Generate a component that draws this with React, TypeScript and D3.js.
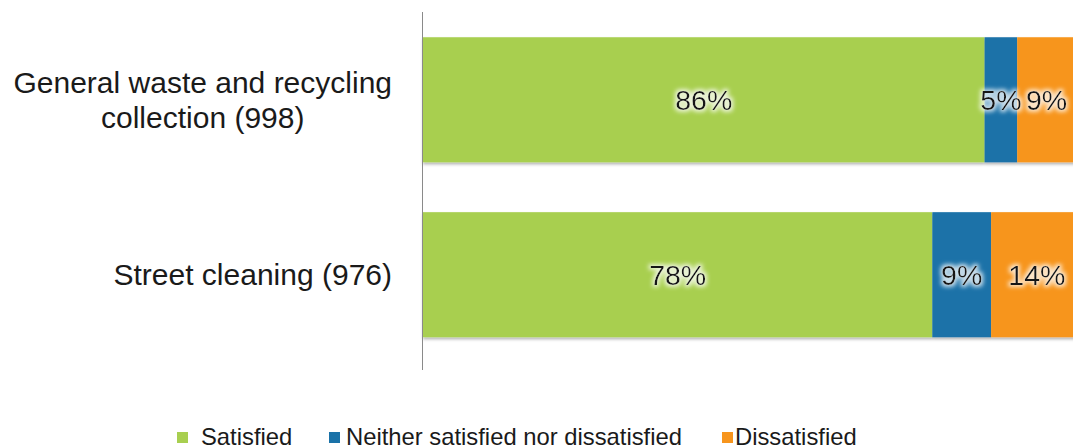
import React from "react";
import * as d3 from "d3";

const categories: string[][] = [
  ["General waste and recycling", "collection (998)"],
  ["Street cleaning (976)"],
];
const seriesNames = ["Satisfied", "Neither satisfied nor dissatisfied", "Dissatisfied"];
const satisfied = [86, 78];
const neither = [5, 9];
const dissatisfied = [9, 14];
const colors = ["#A8CF50", "#1A72A8", "#F7951D"];

const W = 1073;
const H = 448;
const FONT = "Arial, 'Liberation Sans', sans-serif";

function measure(text: string, size: number): number {
  if (typeof document === "undefined") return text.length * size * 0.5;
  const c = document.createElement("canvas").getContext("2d");
  if (!c) return text.length * size * 0.5;
  c.font = `${size}px ${FONT}`;
  return c.measureText(text).width;
}

export default function App() {
  const values = [satisfied, neither, dissatisfied];
  const x = d3.scaleLinear().domain([0, 100]).range([423, 1076]);
  const y = d3
    .scaleBand<number>()
    .domain(categories.map((_, i) => i))
    .range([12.75, 361.75])
    .paddingInner(0.285)
    .paddingOuter(0.14);
  const bh = y.bandwidth();
  const labelRight = 392;
  const catSize = 30;

  const legendItems = [
    { sq: 177, tx: 201 },
    { sq: 329, tx: 346 },
    { sq: 722, tx: 735 },
  ];

  return (
    <svg
      width={W}
      height={H}
      style={{ position: "absolute", left: 0, top: 0, background: "#fff" }}
      fontFamily={FONT}
    >
      <defs>
        <filter id="shadow" x="-5%" y="-10%" width="110%" height="130%">
          <feDropShadow dx="0" dy="2" stdDeviation="1.5" floodColor="#000" floodOpacity="0.3" />
        </filter>
        <filter id="glow" x="-30%" y="-40%" width="160%" height="180%">
          <feMorphology in="SourceAlpha" operator="dilate" radius="1.5" result="d" />
          <feGaussianBlur in="d" stdDeviation="2" result="b" />
          <feFlood floodColor="#ffffff" floodOpacity="0.75" result="f" />
          <feComposite in="f" in2="b" operator="in" result="g" />
          <feMerge>
            <feMergeNode in="g" />
            <feMergeNode in="SourceGraphic" />
          </feMerge>
        </filter>
      </defs>

      {categories.map((_, ci) => {
        let acc = 0;
        const y0 = y(ci)!;
        return (
          <g key={ci} filter="url(#shadow)">
            {values.map((s, si) => {
              const start = acc;
              acc += s[ci];
              return (
                <rect
                  key={si}
                  x={x(start)}
                  y={y0}
                  width={x(acc) - x(start)}
                  height={bh}
                  fill={colors[si]}
                />
              );
            })}
          </g>
        );
      })}

      {categories.map((_, ci) => {
        let acc = 0;
        const cy = y(ci)! + bh / 2;
        return (
          <g key={ci}>
            {values.map((s, si) => {
              const start = acc;
              acc += s[ci];
              return (
                <text
                  key={si}
                  x={(x(start) + x(acc)) / 2}
                  y={cy + 10}
                  textAnchor="middle"
                  fontSize={28.5}
                  fill="#161616"
                  filter="url(#glow)"
                >
                  {s[ci]}%
                </text>
              );
            })}
          </g>
        );
      })}

      <line x1={422.5} x2={422.5} y1={12} y2={370} stroke="#8a8a8a" strokeWidth={1} />

      {categories.map((lines, ci) => {
        const cy = y(ci)! + bh / 2;
        const lh = 35;
        const n = lines.length;
        const firstBase = cy + 10.7 - ((n - 1) * lh) / 2;
        const maxW = Math.max(...lines.map((l) => measure(l, catSize)));
        const cx = labelRight - maxW / 2;
        return (
          <text key={ci} fontSize={catSize} fill="#1a1a1a" textAnchor="middle">
            {lines.map((l, li) => (
              <tspan key={li} x={cx} y={firstBase + li * lh}>
                {l}
              </tspan>
            ))}
          </text>
        );
      })}

      {seriesNames.map((name, i) => (
        <g key={name}>
          <rect x={legendItems[i].sq} y={432} width={11} height={11} fill={colors[i]} />
          <text x={legendItems[i].tx} y={444.5} fontSize={23.8} fill="#1a1a1a">
            {name}
          </text>
        </g>
      ))}
    </svg>
  );
}
